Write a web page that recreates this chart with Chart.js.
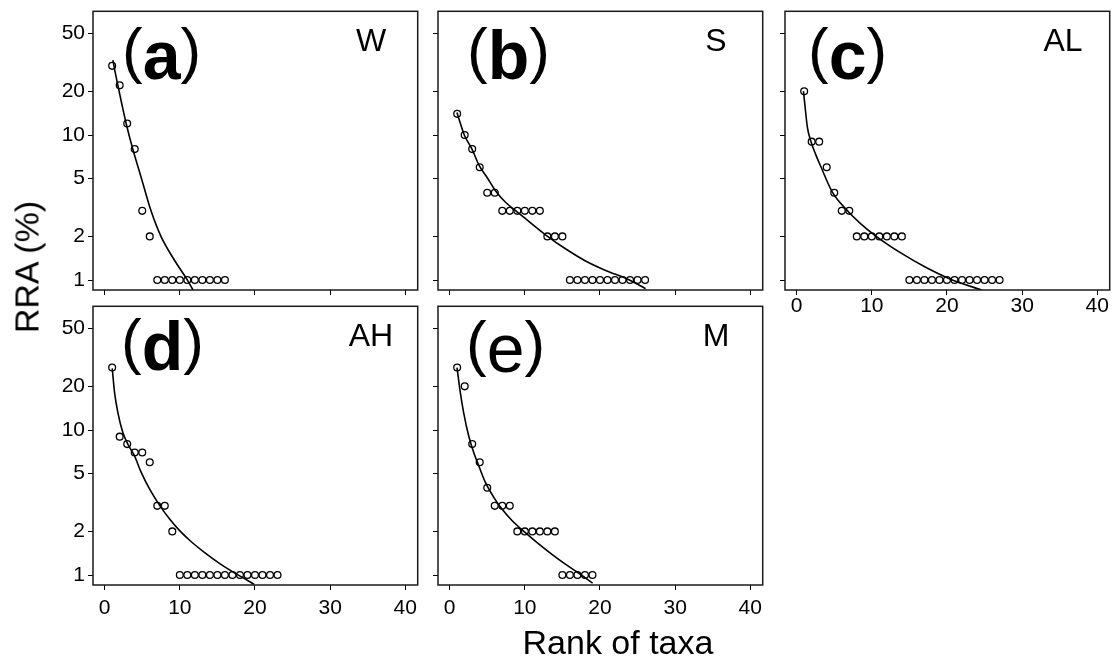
<!DOCTYPE html>
<html>
<head>
<meta charset="utf-8">
<script src="https://cdn.jsdelivr.net/npm/chart.js@4.4.1/dist/chart.umd.min.js"></script>
<style>
  body { margin: 0; background: #fff; width: 1117px; height: 662px; position: relative; overflow: hidden;
         font-family: 'Liberation Sans', Arial, sans-serif; color: #000; }
  canvas { position: absolute; }
  .ytitle { position: absolute; left: 27px; top: 267px; transform: translate(-50%, -50%) rotate(-90deg);
            font-size: 34px; white-space: nowrap; }
  .xtitle { position: absolute; left: 618px; top: 642px; transform: translate(-50%, -50%);
            font-size: 34px; white-space: nowrap; }
</style>
</head>
<body>
<canvas id="pW" width="400" height="324"></canvas>
<canvas id="pS" width="400" height="324"></canvas>
<canvas id="pAL" width="400" height="324"></canvas>
<canvas id="pAH" width="400" height="324"></canvas>
<canvas id="pM" width="400" height="324"></canvas>
<div class="ytitle">RRA (%)</div>
<div class="xtitle">Rank of taxa</div>
<script>
const FONT = "'Liberation Sans', Arial, sans-serif";

// axis ticks
const xTicks = [0, 10, 20, 30, 40];
const yTicks = [1, 2, 5, 10, 20, 50];

// observed relative read abundance, ordered by rank
const rraW  = [30, 22, 12, 8, 3, 2, 1, 1, 1, 1, 1, 1, 1, 1, 1, 1];
const rraS  = [14, 10, 8, 6, 4, 4, 3, 3, 3, 3, 3, 3, 2, 2, 2, 1, 1, 1, 1, 1, 1, 1, 1, 1, 1, 1];
const rraAL = [20, 9, 9, 6, 4, 3, 3, 2, 2, 2, 2, 2, 2, 2, 1, 1, 1, 1, 1, 1, 1, 1, 1, 1, 1, 1, 1];
const rraAH = [27, 9, 8, 7, 7, 6, 3, 3, 2, 1, 1, 1, 1, 1, 1, 1, 1, 1, 1, 1, 1, 1, 1];
const rraM  = [27, 20, 8, 6, 4, 3, 3, 3, 2, 2, 2, 2, 2, 2, 1, 1, 1, 1, 1];

// fitted curves
const fitW_rank  = [1.10, 1.41, 1.76, 2.29, 2.86, 3.74, 4.85, 6.17, 7.49, 9.25, 11.01, 11.76];
const fitW_rra   = [32.8, 26.9, 22.0, 16.3, 12.0, 8.0, 5.12, 3.0, 2.0, 1.38, 1.0, 0.854];
const fitS_rank  = [0.97, 1.95, 2.97, 3.94, 4.96, 6.07, 7.40, 8.73, 10.49, 12.93, 15.36, 18.02, 20.67, 23.77, 26.07];
const fitS_rra   = [14.3, 10.0, 8.0, 6.15, 5.12, 4.15, 3.45, 3.02, 2.55, 2.02, 1.65, 1.36, 1.17, 1.01, 0.872];
const fitAL_rank = [0.905, 1.13, 1.43, 1.88, 2.54, 3.20, 4.75, 6.73, 8.5, 10.49, 14.02, 17.1, 20.55, 24.6];
const fitAL_rra  = [20.1, 15.5, 11.3, 9.1, 7.33, 6.09, 4.04, 3.02, 2.45, 2.02, 1.52, 1.23, 1.01, 0.854];
const fitAH_rank = [1.01, 1.32, 1.76, 2.42, 3.08, 3.96, 4.85, 5.95, 7.27, 8.59, 9.91, 11.45, 13.22, 15.42, 17.62, 19.91];
const fitAH_rra  = [26.6, 18.1, 13.2, 9.6, 8.0, 6.66, 5.12, 3.94, 3.05, 2.45, 2.04, 1.71, 1.44, 1.19, 1.01, 0.863];
const fitM_rank  = [0.98, 1.42, 1.86, 2.53, 3.19, 3.86, 4.74, 5.85, 6.96, 8.29, 10.07, 11.84, 13.61, 15.39, 16.94, 19.02];
const fitM_rra   = [26.9, 18.1, 13.2, 9.14, 7.02, 5.69, 4.37, 3.45, 2.85, 2.38, 1.96, 1.64, 1.39, 1.19, 1.05, 0.88];

const panels = [
  { id: 'pW',  letter: 'a', bold: true,  site: 'W',  rra: rraW,  fx: fitW_rank,  fy: fitW_rra,  left: 93,  top: 10,  yLab: true,  xLab: false, lx: 29, ly: 0 },
  { id: 'pS',  letter: 'b', bold: true,  site: 'S',  rra: rraS,  fx: fitS_rank,  fy: fitS_rra,  left: 438, top: 10,  yLab: false, xLab: false, lx: 29, ly: 0 },
  { id: 'pAL', letter: 'c', bold: true,  site: 'AL', rra: rraAL, fx: fitAL_rank, fy: fitAL_rra, left: 785, top: 10,  yLab: false, xLab: true,  lx: 23, ly: 0, xPad: -1 },
  { id: 'pAH', letter: 'd', bold: true,  site: 'AH', rra: rraAH, fx: fitAH_rank, fy: fitAH_rra, left: 93,  top: 305, yLab: true,  xLab: true,  lx: 28, ly: -4, xPad: 6 },
  { id: 'pM',  letter: 'e', bold: false, site: 'M',  rra: rraM,  fx: fitM_rank,  fy: fitM_rra,  left: 438, top: 305, yLab: false, xLab: true,  lx: 28, ly: -2, xPad: 6 },
];

function makePanel(p) {
  const canvas = document.getElementById(p.id);
  canvas.style.left = (p.left - 70) + 'px';
  canvas.style.top = (p.top - 4) + 'px';

  const panelText = {
    id: 'panelText',
    afterDraw(chart) {
      const ctx = chart.ctx;
      const ca = chart.chartArea;
      ctx.save();
      ctx.strokeStyle = '#1a1a1a';
      ctx.lineWidth = 1.5;
      ctx.strokeRect(ca.left, ca.top, ca.right - ca.left, ca.bottom - ca.top);

      ctx.fillStyle = '#000';
      ctx.textBaseline = 'alphabetic';
      ctx.textAlign = 'left';
      let x = ca.left + p.lx;
      const yb = ca.top + 60 + p.ly;
      ctx.font = `62px ${FONT}`;
      ctx.fillText('(', x, yb);
      x += ctx.measureText('(').width;
      ctx.font = `${p.bold ? 'bold ' : ''}68px ${FONT}`;
      ctx.fillText(p.letter, x, yb + 8);
      x += ctx.measureText(p.letter).width;
      ctx.font = `62px ${FONT}`;
      ctx.fillText(')', x, yb);

      ctx.font = `32px ${FONT}`;
      ctx.textAlign = 'center';
      ctx.fillText(p.site, ca.left + 278, ca.top + 40);
      ctx.restore();
    }
  };

  return new Chart(canvas.getContext('2d'), {
    type: 'scatter',
    data: {
      datasets: [
        {
          type: 'line',
          data: p.fx.map((x, i) => ({ x: x, y: p.fy[i] })),
          borderColor: '#000',
          borderWidth: 1.6,
          pointRadius: 0,
          cubicInterpolationMode: 'monotone',
          fill: false,
        },
        {
          data: p.rra.map((v, i) => ({ x: i + 1, y: v })),
          pointStyle: 'circle',
          pointRadius: 3.4,
          pointBorderWidth: 1.3,
          pointBorderColor: '#000',
          pointBackgroundColor: 'rgba(255,255,255,0)',
        },
      ],
    },
    options: {
      responsive: false,
      animation: false,
      devicePixelRatio: 1,
      layout: { padding: { top: 4, right: 4, left: 0, bottom: 0 } },
      plugins: { legend: { display: false }, tooltip: { enabled: false } },
      scales: {
        x: {
          type: 'linear',
          min: -1.55,
          max: 41.65,
          afterBuildTicks: (s) => { s.ticks = xTicks.map((v) => ({ value: v })); },
          afterFit: (s) => { s.height = 40; s.paddingLeft = 0; s.paddingRight = 0; },
          grid: { display: true, drawOnChartArea: false, drawTicks: true, tickLength: 5, color: '#000' },
          border: { display: false },
          ticks: { display: p.xLab, autoSkip: false, maxRotation: 0, color: '#000', padding: p.xPad || 0,
                   font: { size: 21, family: FONT } },
        },
        y: {
          type: 'logarithmic',
          min: 0.854,
          max: 71.3,
          afterBuildTicks: (s) => { s.ticks = yTicks.map((v) => ({ value: v })); },
          afterFit: (s) => { s.width = 70; s.paddingTop = 0; s.paddingBottom = 0; },
          grid: { display: true, drawOnChartArea: false, drawTicks: true, tickLength: 5, color: '#000' },
          border: { display: false },
          ticks: { display: p.yLab, autoSkip: false, color: '#000', padding: 3,
                   font: { size: 21, family: FONT }, callback: (v) => String(v) },
        },
      },
    },
    plugins: [panelText],
  });
}

panels.forEach(makePanel);
</script>
</body>
</html>
